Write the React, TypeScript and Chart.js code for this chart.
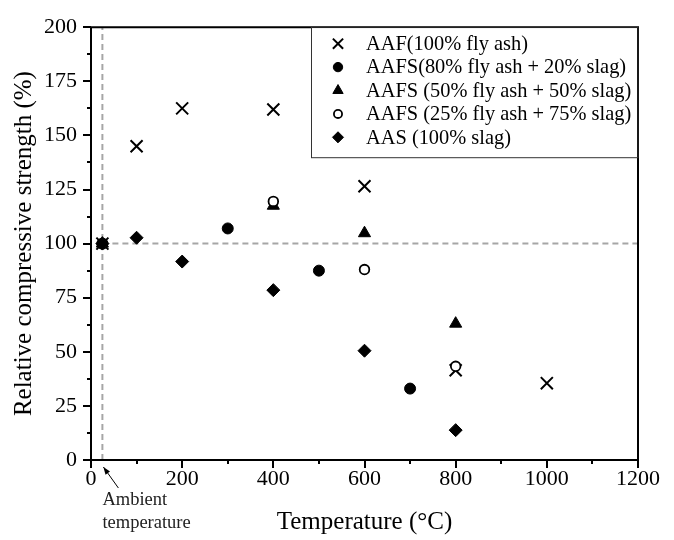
import React, { useEffect, useRef } from "react";
import { Chart, registerables } from "chart.js";
import { drawPoint } from "chart.js/helpers";

Chart.register(...registerables);

const seriesNames = [
  "AAF(100% fly ash)",
  "AAFS(80% fly ash + 20% slag)",
  "AAFS (50% fly ash + 50% slag)",
  "AAFS (25% fly ash + 75% slag)",
  "AAS (100% slag)",
];

const aafX = [25, 100, 200, 400, 600, 800, 1000];
const aafY = [100, 145, 162.5, 162, 126.5, 41.5, 35.5];

const aafs80X = [25, 300, 500, 700];
const aafs80Y = [100, 107, 87.5, 33];

const aafs50X = [25, 400, 600, 800];
const aafs50Y = [100, 117.5, 104.8, 63];

const aafs25X = [25, 400, 600, 800];
const aafs25Y = [100, 119.5, 88, 43.3];

const aasX = [25, 100, 200, 400, 600, 800];
const aasY = [100, 102.7, 91.7, 78.5, 50.5, 13.8];

const xTicks = [0, 200, 400, 600, 800, 1000, 1200];
const yTicks = [0, 25, 50, 75, 100, 125, 150, 175, 200];
const referenceY = 100;
const ambientX = 25;

const FONT = "'Liberation Serif', 'Times New Roman', serif";

const pts = (xs: number[], ys: number[]) => xs.map((x, i) => ({ x, y: ys[i] }));

const styles = [
  { pointStyle: "crossRot", radius: 8.5, borderWidth: 2, backgroundColor: "#000", borderColor: "#000" },
  { pointStyle: "circle", radius: 5.5, borderWidth: 1, backgroundColor: "#000", borderColor: "#000" },
  { pointStyle: "triangle", radius: 7, borderWidth: 1, backgroundColor: "#000", borderColor: "#000" },
  { pointStyle: "circle", radius: 4.8, borderWidth: 1.8, backgroundColor: "#fff", borderColor: "#000" },
  { pointStyle: "rectRot", radius: 6.5, borderWidth: 1, backgroundColor: "#000", borderColor: "#000" },
];

const framePlugin = {
  id: "framePlugin",
  beforeDatasetsDraw(chart: any) {
    const { ctx, chartArea } = chart;
    const xs = chart.scales.x;
    const ys = chart.scales.y;
    ctx.save();
    ctx.strokeStyle = "#a6a6a6";
    ctx.lineWidth = 2;
    ctx.setLineDash([6, 4]);
    const yp = ys.getPixelForValue(referenceY);
    ctx.beginPath();
    ctx.moveTo(xs.getPixelForValue(ambientX), yp);
    ctx.lineTo(chartArea.right, yp);
    ctx.stroke();
    const xp = xs.getPixelForValue(ambientX);
    ctx.beginPath();
    ctx.moveTo(xp, chartArea.bottom);
    ctx.lineTo(xp, chartArea.top);
    ctx.stroke();
    ctx.restore();
  },
  afterDraw(chart: any) {
    const { ctx, chartArea } = chart;
    const xs = chart.scales.x;
    const ys = chart.scales.y;
    const { left, right, top, bottom } = chartArea;
    ctx.save();
    // frame
    ctx.strokeStyle = "#000";
    ctx.lineWidth = 2;
    ctx.beginPath();
    ctx.rect(left, top, right - left, bottom - top);
    ctx.stroke();
    // ticks
    ctx.lineWidth = 2;
    for (let v = 0; v <= 200; v += 12.5) {
      const p = Math.round(ys.getPixelForValue(v));
      const major = v % 25 === 0;
      ctx.beginPath();
      ctx.moveTo(left, p);
      ctx.lineTo(left - (major ? 8 : 4), p);
      ctx.stroke();
    }
    for (let v = 0; v <= 1200; v += 100) {
      const p = Math.round(xs.getPixelForValue(v));
      const major = v % 200 === 0;
      ctx.beginPath();
      ctx.moveTo(p, bottom);
      ctx.lineTo(p, bottom + (major ? 8 : 4));
      ctx.stroke();
    }
    // legend
    const lx = 311;
    ctx.lineWidth = 1;
    ctx.strokeStyle = "#333";
    ctx.fillStyle = "#fff";
    ctx.fillRect(lx, top + 1, right - lx - 1, 130);
    ctx.strokeRect(lx + 0.5, top, right - lx - 0.5, 130.5);
    ctx.font = `20.4px ${FONT}`;
    ctx.textBaseline = "middle";
    ctx.textAlign = "left";
    seriesNames.forEach((name, i) => {
      const y = top + 16.5 + i * 23.4;
      const s = styles[i];
      ctx.fillStyle = s.backgroundColor;
      ctx.strokeStyle = s.borderColor;
      ctx.lineWidth = s.borderWidth;
      drawPoint(ctx, { pointStyle: s.pointStyle, radius: s.radius * 0.85, borderWidth: s.borderWidth, rotation: 0 } as any, 338, y);
      ctx.fillStyle = "#000";
      ctx.fillText(name, 366, y + 1);
    });
    // ambient annotation
    const ax = xs.getPixelForValue(ambientX);
    const tipX = ax + 1;
    const tipY = bottom + 7;
    const tailX = ax + 16;
    const tailY = bottom + 28;
    ctx.strokeStyle = "#000";
    ctx.fillStyle = "#000";
    ctx.lineWidth = 1;
    ctx.beginPath();
    ctx.moveTo(tailX, tailY);
    ctx.lineTo(tipX, tipY);
    ctx.stroke();
    const ang = Math.atan2(tipY - tailY, tipX - tailX);
    const hl = 8;
    ctx.beginPath();
    ctx.moveTo(tipX, tipY);
    ctx.lineTo(tipX - hl * Math.cos(ang - 0.35), tipY - hl * Math.sin(ang - 0.35));
    ctx.lineTo(tipX - hl * Math.cos(ang + 0.35), tipY - hl * Math.sin(ang + 0.35));
    ctx.closePath();
    ctx.fill();
    ctx.font = `18.5px ${FONT}`;
    ctx.fillStyle = "#222";
    ctx.textAlign = "left";
    ctx.textBaseline = "middle";
    ctx.fillText("Ambient", ax, bottom + 40);
    ctx.fillText("temperature", ax, bottom + 63);
    ctx.restore();
  },
};

export default function App() {
  const ref = useRef<HTMLCanvasElement>(null);
  useEffect(() => {
    if (!ref.current) return;
    const datasets = [
      pts(aafX, aafY),
      pts(aafs80X, aafs80Y),
      pts(aafs50X, aafs50Y),
      pts(aafs25X, aafs25Y),
      pts(aasX, aasY),
    ].map((data, i) => ({
      label: seriesNames[i],
      data,
      showLine: false,
      pointStyle: styles[i].pointStyle as any,
      pointRadius: styles[i].radius,
      pointBorderWidth: styles[i].borderWidth,
      pointBackgroundColor: styles[i].backgroundColor,
      pointBorderColor: styles[i].borderColor,
      backgroundColor: styles[i].backgroundColor,
      borderColor: styles[i].borderColor,
      order: 5 - i,
    }));
    const chart = new Chart(ref.current, {
      type: "scatter",
      data: { datasets },
      plugins: [framePlugin],
      options: {
        responsive: false,
        animation: false,
        layout: { padding: { top: 22, right: 36, left: 0, bottom: 0 } },
        plugins: { legend: { display: false }, tooltip: { enabled: false } },
        scales: {
          x: {
            type: "linear",
            min: 0,
            max: 1200,
            afterBuildTicks: (s: any) => {
              s.ticks = xTicks.map((v) => ({ value: v }));
            },
            afterFit: (s: any) => {
              s.height = 80;
            },
            grid: { display: false, drawTicks: false },
            border: { display: false },
            ticks: {
              color: "#000",
              font: { family: FONT, size: 22 },
              padding: 6,
              maxRotation: 0,
              callback: (v: any) => String(v),
            },
            title: {
              display: true,
              text: "Temperature (°C)",
              color: "#000",
              font: { family: FONT, size: 25 },
              padding: { top: 0, bottom: 3 },
            },
          },
          y: {
            type: "linear",
            min: 0,
            max: 200,
            afterBuildTicks: (s: any) => {
              s.ticks = yTicks.map((v) => ({ value: v }));
            },
            afterFit: (s: any) => {
              s.width = 91;
            },
            grid: { display: false, drawTicks: false },
            border: { display: false },
            ticks: {
              color: "#000",
              font: { family: FONT, size: 22 },
              padding: 14,
              callback: (v: any) => String(v),
            },
            title: {
              display: true,
              text: "Relative compressive strength (%)",
              color: "#000",
              font: { family: FONT, size: 25 },
              padding: { top: 9, bottom: 0 },
            },
          },
        },
      },
    });
    return () => chart.destroy();
  }, []);
  return (
    <div style={{ position: "fixed", left: 0, top: 0, width: 674, height: 540, background: "#fff" }}>
      <canvas ref={ref} width={674} height={540} style={{ display: "block" }} />
    </div>
  );
}
